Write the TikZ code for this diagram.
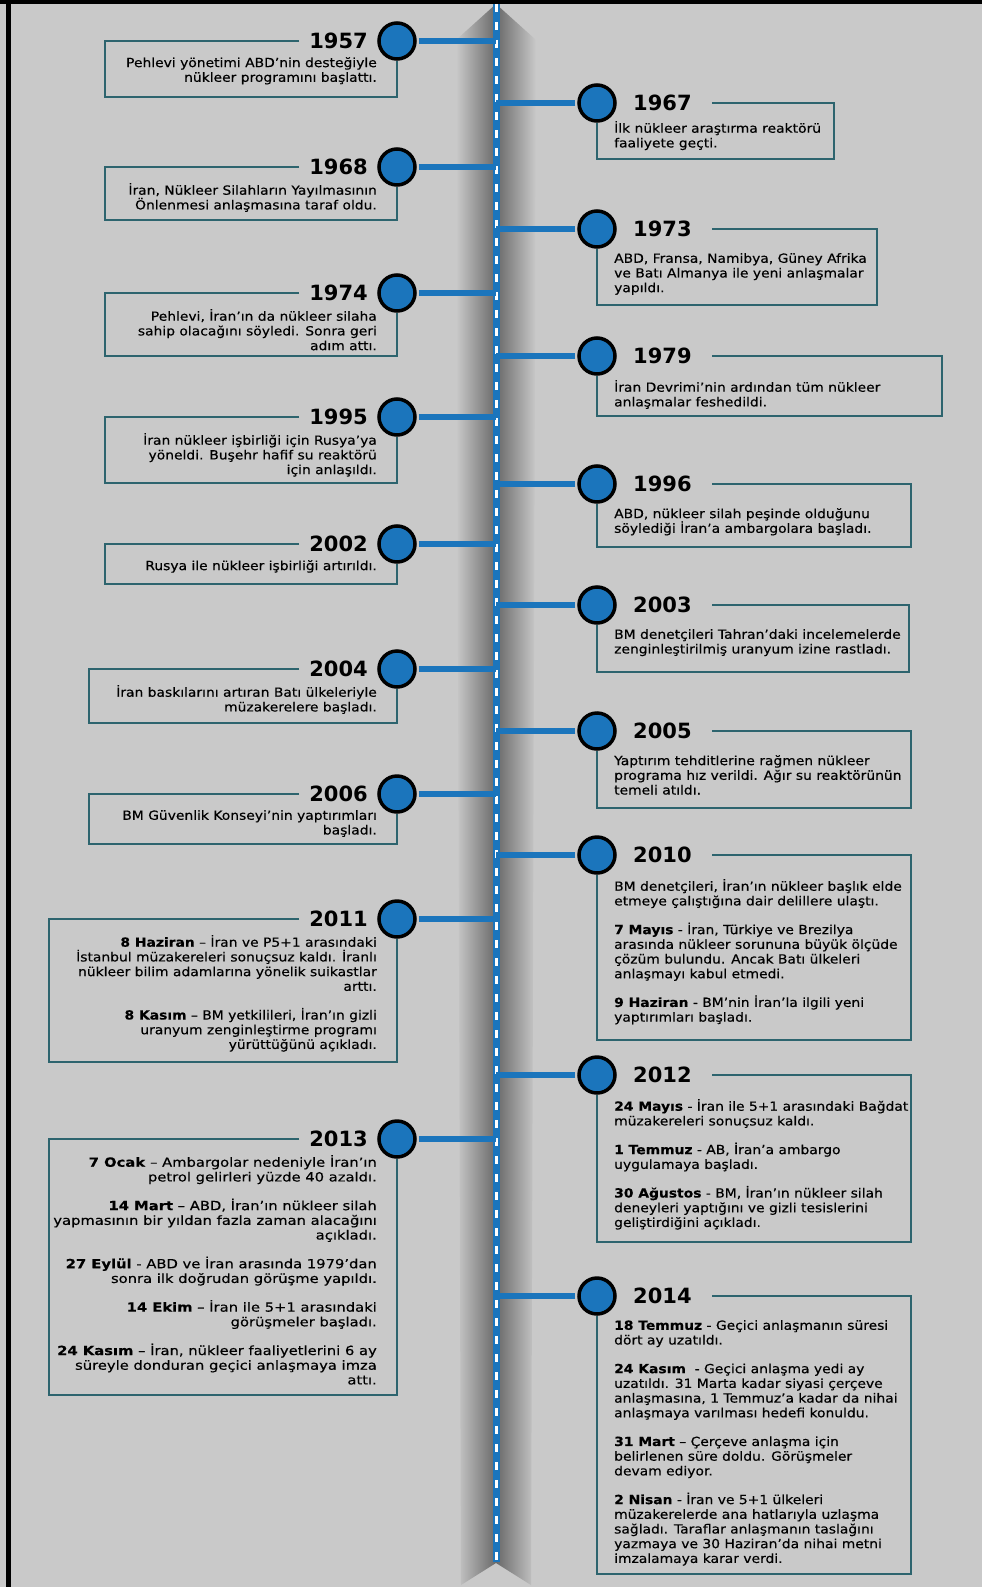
\documentclass[tikz,border=0pt]{standalone}
\usepackage{fontspec}
\setmainfont{DejaVu Sans}
\newfontfamily\narrowtext{DejaVu Sans}[FakeStretch=1.1, FakeBold=0.4]
\newfontfamily\midtext{DejaVu Sans}[FakeStretch=1.17, FakeBold=0.4]
\definecolor{bg}{RGB}{201,201,201}
\definecolor{tlblue}{RGB}{27,117,188}
\definecolor{boxcol}{RGB}{45,100,110}
\definecolor{shadowcol}{RGB}{105,105,105}

\begin{document}
\begin{tikzpicture}[x=1pt,y=-1pt]
\tikzstyle{dot}=[circle, draw=black, line width=3.5pt, fill=tlblue, minimum size=36pt, inner sep=0pt]
\tikzstyle{yearlabel}=[font=\fontsize{21}{21}\selectfont\bfseries, inner sep=0pt]
\tikzstyle{info}=[inner sep=0pt]
\tikzstyle{frame}=[draw=boxcol, line width=1.6pt]
\tikzstyle{stem}=[draw=tlblue, line width=6pt, shorten <=2pt]

\useasboundingbox (0,0) rectangle (982,1587);
\fill[bg] (0,0) rectangle (982,1587);
\fill[black] (6,0) rectangle (11,1587);
\fill[black] (0,0) rectangle (982,4);

% shadow round the spine
\shade[left color=bg, right color=shadowcol] (456,40) -- (496,4) -- (496,1563) -- (461,1585) -- cycle;
\shade[left color=shadowcol, right color=bg] (496,4) -- (536,40) -- (531,1585) -- (496,1563) -- cycle;

\coordinate (spine) at (496,4);
\coordinate (spineend) at (496,1562);
\draw[tlblue, line width=7pt] (spine) -- (spineend);
\draw[white, line width=3pt, dash pattern=on 8pt off 10pt] (spine) -- (spineend);

% left side
\foreach \Y/\py/\pb/\px/\ff/\txt in {
1957/41/97/105/\narrowtext/{Pehlevi yönetimi ABD’nin desteğiyle\\nükleer programını başlattı.},
1968/167/220/105/\narrowtext/{İran, Nükleer Silahların Yayılmasının\\Önlenmesi anlaşmasına taraf oldu.},
1974/293/356/105/\narrowtext/{Pehlevi, İran’ın da nükleer silaha\\sahip olacağını söyledi. Sonra geri\\adım attı.},
1995/417/483/105/\narrowtext/{İran nükleer işbirliği için Rusya’ya\\yöneldi. Buşehr hafif su reaktörü\\için anlaşıldı.},
2002/544/584/105/\narrowtext/{Rusya ile nükleer işbirliği artırıldı.},
2004/669/723/89/\narrowtext/{İran baskılarını artıran Batı ülkeleriyle\\müzakerelere başladı.},
2006/794/844/89/\narrowtext/{BM Güvenlik Konseyi’nin yaptırımları\\başladı.},
2011/919/1062/49/\narrowtext/{\textbf{8 Haziran} – İran ve P5+1 arasındaki\\İstanbul müzakereleri sonuçsuz kaldı. İranlı\\nükleer bilim adamlarına yönelik suikastlar\\arttı.\\[14pt]\textbf{8 Kasım} – BM yetkilileri, İran’ın gizli\\uranyum zenginleştirme programı\\yürüttüğünü açıkladı.},
2013/1139/1395/49/\midtext/{\textbf{7 Ocak} – Ambargolar nedeniyle İran’ın\\petrol gelirleri yüzde 40 azaldı.\\[14pt]\textbf{14 Mart} – ABD, İran’ın nükleer silah\\yapmasının bir yıldan fazla zaman alacağını\\açıkladı.\\[14pt]\textbf{27 Eylül} - ABD ve İran arasında 1979’dan\\sonra ilk doğrudan görüşme yapıldı.\\[14pt]\textbf{14 Ekim} – İran ile 5+1 arasındaki\\görüşmeler başladı.\\[14pt]\textbf{24 Kasım} – İran, nükleer faaliyetlerini 6 ay\\süreyle donduran geçici anlaşmaya imza\\attı.}%
}{
\node[dot] (c\Y) at (397,\py) {};
\draw[stem] (c\Y) -- (c\Y -| spine);
\node[yearlabel, anchor=east] (y\Y) at (368,\py) {\Y};
\node[info, font=\ff\fontsize{12.6}{14.7}\selectfont, align=right, anchor=north east] (t\Y) at (377,\py+16) {\txt};
\draw[frame] (299,\py) -- (\px,\py) -- (\px,\pb) -- (397,\pb) -- (c\Y.south);
}

% right side
\foreach \Y/\py/\pb/\px/\po/\ff/\txt in {
1967/103/159/834/18/\narrowtext/{İlk nükleer araştırma reaktörü\\faaliyete geçti.},
1973/229/305/877/24/\narrowtext/{ABD, Fransa, Namibya, Güney Afrika\\ve Batı Almanya ile yeni anlaşmalar\\yapıldı.},
1979/356/416/942/24/\narrowtext/{İran Devrimi’nin ardından tüm nükleer\\anlaşmalar feshedildi.},
1996/484/547/911/24/\narrowtext/{ABD, nükleer silah peşinde olduğunu\\söylediği İran’a ambargolara başladı.},
2003/605/672/909/24/\narrowtext/{BM denetçileri Tahran’daki incelemelerde\\zenginleştirilmiş uranyum izine rastladı.},
2005/731/808/911/24/\narrowtext/{Yaptırım tehditlerine rağmen nükleer\\programa hız verildi. Ağır su reaktörünün\\temeli atıldı.},
2010/855/1040/911/24/\narrowtext/{BM denetçileri, İran’ın nükleer başlık elde\\etmeye çalıştığına dair delillere ulaştı.\\[14pt]\textbf{7 Mayıs} - İran, Türkiye ve Brezilya\\arasında nükleer sorununa büyük ölçüde\\çözüm bulundu. Ancak Batı ülkeleri\\anlaşmayı kabul etmedi.\\[14pt]\textbf{9 Haziran} - BM’nin İran’la ilgili yeni\\yaptırımları başladı.},
2012/1075/1242/911/24/\narrowtext/{\textbf{24 Mayıs} - İran ile 5+1 arasındaki Bağdat\\müzakereleri sonuçsuz kaldı.\\[14pt]\textbf{1 Temmuz} - AB, İran’a ambargo\\uygulamaya başladı.\\[14pt]\textbf{30 Ağustos} - BM, İran’ın nükleer silah\\deneyleri yaptığını ve gizli tesislerini\\geliştirdiğini açıkladı.},
2014/1296/1574/911/24/\narrowtext/{\textbf{18 Temmuz} - Geçici anlaşmanın süresi\\dört ay uzatıldı.\\[14pt]\textbf{24 Kasım} \ - Geçici anlaşma yedi ay\\uzatıldı. 31 Marta kadar siyasi çerçeve\\anlaşmasına, 1 Temmuz’a kadar da nihai\\anlaşmaya varılması hedefi konuldu.\\[14pt]\textbf{31 Mart} – Çerçeve anlaşma için\\belirlenen süre doldu. Görüşmeler\\devam ediyor.\\[14pt]\textbf{2 Nisan} - İran ve 5+1 ülkeleri\\müzakerelerde ana hatlarıyla uzlaşma\\sağladı. Taraflar anlaşmanın taslağını\\yazmaya ve 30 Haziran’da nihai metni\\imzalamaya karar verdi.}%
}{
\node[dot] (c\Y) at (597,\py) {};
\draw[stem] (c\Y) -- (c\Y -| spine);
\node[yearlabel, anchor=west] (y\Y) at (633,\py) {\Y};
\node[info, font=\ff\fontsize{12.6}{14.7}\selectfont, align=left, anchor=north west] (t\Y) at (614,\py+\po) {\txt};
\draw[frame] (712,\py) -- (\px,\py) -- (\px,\pb) -- (597,\pb) -- (c\Y.south);
}
\end{tikzpicture}
\end{document}
